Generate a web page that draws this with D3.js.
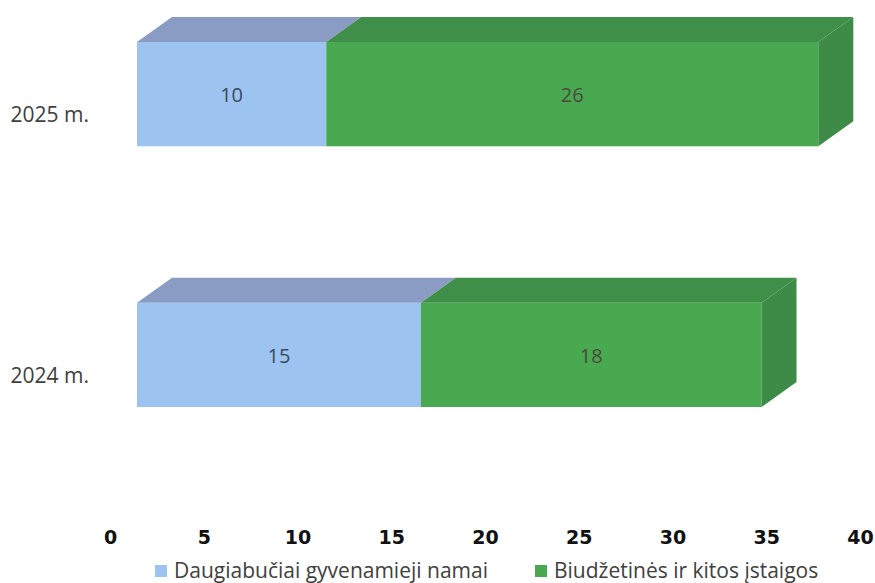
<!DOCTYPE html>
<html>
<head>
<meta charset="utf-8">
<script src="https://cdn.jsdelivr.net/npm/d3@7"></script>
<style>
  html, body { margin: 0; padding: 0; background: #ffffff; }
  svg { display: block; }
</style>
</head>
<body>
<svg id="chart" width="875" height="583"></svg>
<script>
// ---- data ----
const categories = ["2025 m.", "2024 m."];
const seriesNames = ["Daugiabučiai gyvenamieji namai", "Biudžetinės ir kitos įstaigos"];
const daugiabuciai = [10, 15];
const biudzetines = [26, 18];
const tickValues = [0, 5, 10, 15, 20, 25, 30, 35, 40];

// ---- styles ----
const frontColors = ["#9dc3f0", "#48a951"];
const topColors = ["#8a9cc3", "#3f8f48"];
const sideColor = "#3e8a47";
const labelColors = ["#3b4a5e", "#4a4a3c"];
const depthX = 35, depthY = -25;

const svg = d3.select("#chart");

const xAxisScale = d3.scaleLinear().domain([0, 40]).range([110, 860]);
const xFront = d3.scaleLinear().domain([0, 40]).range([137, 894]);
const y = d3.scaleBand().domain(categories).range([42, 407]).paddingInner(0.6).paddingOuter(0);

const rows = categories.map((c, i) => {
  const vals = [daugiabuciai[i], biudzetines[i]];
  let acc = 0;
  const segs = vals.map((v, s) => {
    const seg = { cat: c, s, v, x0: acc, x1: acc + v };
    acc += v;
    return seg;
  });
  return { cat: c, segs, total: acc };
});

const g = svg.append("g");

rows.forEach(row => {
  const yt = y(row.cat), yb = y(row.cat) + y.bandwidth();
  const rg = g.append("g");
  // front faces
  rg.selectAll("rect.front").data(row.segs).join("rect")
    .attr("class", "front")
    .attr("x", d => xFront(d.x0))
    .attr("y", yt)
    .attr("width", d => xFront(d.x1) - xFront(d.x0))
    .attr("height", yb - yt)
    .attr("fill", d => frontColors[d.s]);
  // top faces
  rg.selectAll("path.top").data(row.segs).join("path")
    .attr("class", "top")
    .attr("d", d => {
      const a = xFront(d.x0), b = xFront(d.x1);
      return `M${a},${yt}L${b},${yt}L${b + depthX},${yt + depthY}L${a + depthX},${yt + depthY}Z`;
    })
    .attr("fill", d => topColors[d.s]);
  // side face on end
  const last = row.segs[row.segs.length - 1];
  const e = xFront(last.x1);
  rg.append("path")
    .attr("d", `M${e},${yt}L${e + depthX},${yt + depthY}L${e + depthX},${yb + depthY}L${e},${yb}Z`)
    .attr("fill", sideColor);
  // value labels
  rg.selectAll("text.val").data(row.segs).join("text")
    .attr("class", "val")
    .attr("x", d => (xFront(d.x0) + xFront(d.x1)) / 2)
    .attr("y", (yt + yb) / 2 + 1)
    .attr("dy", "0.35em")
    .attr("text-anchor", "middle")
    .attr("font-family", "'Open Sans', sans-serif")
    .attr("font-size", 20)
    .attr("fill", d => labelColors[d.s])
    .text(d => d.v);
});

// category labels
g.selectAll("text.cat").data(categories).join("text")
  .attr("class", "cat")
  .attr("x", 89)
  .attr("y", d => y(d) + y.bandwidth() / 2 + 21)
  .attr("dy", "0.35em")
  .attr("text-anchor", "end")
  .attr("font-family", "'Open Sans', sans-serif")
  .attr("font-size", 21)
  .attr("fill", "#404040")
  .text(d => d);

// x axis
const axis = d3.axisBottom(xAxisScale).tickValues(tickValues).tickSize(0).tickPadding(0);
const ag = svg.append("g").attr("transform", "translate(0,530)").call(axis);
ag.select(".domain").remove();
ag.selectAll("text")
  .attr("font-family", "'DejaVu Sans', sans-serif")
  .attr("font-weight", "bold")
  .attr("font-size", 19)
  .attr("fill", "#111111");

// legend
const legendX = [155, 535];
const lg = svg.append("g");
const items = lg.selectAll("g").data(seriesNames).join("g")
  .attr("transform", (d, i) => `translate(${legendX[i]},571)`);
items.append("rect")
  .attr("x", 0).attr("y", -6).attr("width", 12).attr("height", 12)
  .attr("fill", (d, i) => frontColors[i]);
items.append("text")
  .attr("x", 19).attr("y", 0).attr("dy", "0.35em")
  .attr("font-family", "'Open Sans', sans-serif")
  .attr("font-size", 21)
  .attr("fill", "#404040")
  .text(d => d);
</script>
</body>
</html>
